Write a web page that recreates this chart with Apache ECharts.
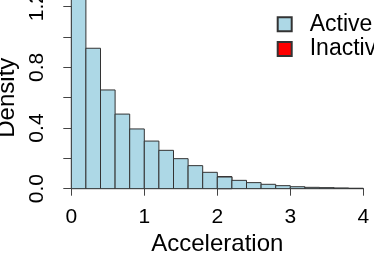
<!DOCTYPE html>
<html>
<head>
<meta charset="utf-8">
<script src="https://cdn.jsdelivr.net/npm/echarts@6/dist/echarts.min.js"></script>
<style>
html,body{margin:0;padding:0;background:#fff;}
#c{width:374px;height:271px;}
</style>
</head>
<body>
<div id="c"></div>
<script>
// Histogram bin edges (Acceleration)
var binStarts = [0.0,0.2,0.4,0.6,0.8,1.0,1.2,1.4,1.6,1.8,2.0,2.2,2.4,2.6,2.8,3.0,3.2,3.4,3.6,3.8];
var binEnds   = [0.2,0.4,0.6,0.8,1.0,1.2,1.4,1.6,1.8,2.0,2.2,2.4,2.6,2.8,3.0,3.2,3.4,3.6,3.8,4.0];
// Densities
var activeDensity = [1.45,0.926,0.651,0.492,0.394,0.314,0.253,0.198,0.152,0.108,0.077,0.055,0.040,0.029,0.020,0.013,0.009,0.007,0.005,0.003];
// Inactive histogram: only visible where it peeks above the Active bars
var inactiveStarts = [2.0];
var inactiveEnds = [2.2];
var inactiveDensity = [0.080];
var yTicks = ['0.0','0.4','0.8','1.2'];
var xTicks = ['0','1','2','3','4'];

function build(starts, ends, vals){
  return starts.map(function(s,i){ return [s, ends[i], vals[i]]; });
}
function renderBar(fill){
  return function(params, api){
    var p0 = api.coord([api.value(0), api.value(2)]);
    var p1 = api.coord([api.value(1), 0]);
    return {
      type:'rect',
      shape:{x:p0[0], y:p0[1], width:p1[0]-p0[0], height:p1[1]-p0[1]},
      style:{fill:fill, stroke:'#333', lineWidth:1}
    };
  };
}

var chart = echarts.init(document.getElementById('c'), null, {renderer:'canvas'});
var FONT = 'Liberation Sans, Arial, Helvetica, sans-serif';
chart.setOption({
  animation:false,
  backgroundColor:'#fff',
  textStyle:{fontFamily:FONT, color:'#000'},
  grid:{left:71.3, right:10.7, top:6.7, bottom:82.3, containLabel:false, outerBoundsMode:'none'},
  legend:{
    orient:'vertical', left:276.7, top:12.7, padding:0, itemWidth:14, itemHeight:14, itemGap:1.8,
    icon:'rect',
    textStyle:{fontFamily:FONT, fontSize:23, lineHeight:23, color:'#000', padding:[0,0,0,13]},
    data:['Active','Inactive']
  },
  xAxis:{
    type:'value', min:0, max:4, interval:1, offset:8,
    name:'Acceleration', nameLocation:'middle', nameGap:36,
    nameTextStyle:{fontFamily:FONT, fontSize:24, color:'#000'},
    axisLine:{show:true, lineStyle:{color:'#444', width:1}},
    axisTick:{show:true, length:7, lineStyle:{color:'#444'}},
    axisLabel:{fontFamily:FONT, fontSize:21, color:'#000', margin:10,
      formatter:function(v){ var i = Math.round(v); return xTicks[i]; }},
    splitLine:{show:false}
  },
  yAxis:{
    type:'value', min:0, max:1.2, interval:0.2, offset:11.3,
    name:'Density', nameLocation:'middle', nameGap:41,
    nameTextStyle:{fontFamily:FONT, fontSize:24, color:'#000'},
    axisLine:{show:true, lineStyle:{color:'#444', width:1}},
    axisTick:{show:true, length:8, lineStyle:{color:'#444'}},
    axisLabel:{fontFamily:FONT, fontSize:21, color:'#000', margin:12, rotate:90,
      formatter:function(v){ var k = Math.round(v*10); return (k % 4 === 0) ? yTicks[k/4] : ''; }},
    splitLine:{show:false}
  },
  series:[
    {
      name:'Inactive', type:'custom', clip:false,
      itemStyle:{color:'#FF0000', borderColor:'#333', borderWidth:1},
      encode:{x:[0,1], y:2},
      renderItem:renderBar('#FF0000'),
      data:build(inactiveStarts, inactiveEnds, inactiveDensity),
      z:1
    },
    {
      name:'Active', type:'custom', clip:false,
      itemStyle:{color:'#ADD8E6', borderColor:'#333', borderWidth:1},
      encode:{x:[0,1], y:2},
      renderItem:renderBar('#ADD8E6'),
      data:build(binStarts, binEnds, activeDensity),
      z:2
    }
  ]
});
</script>
</body>
</html>
